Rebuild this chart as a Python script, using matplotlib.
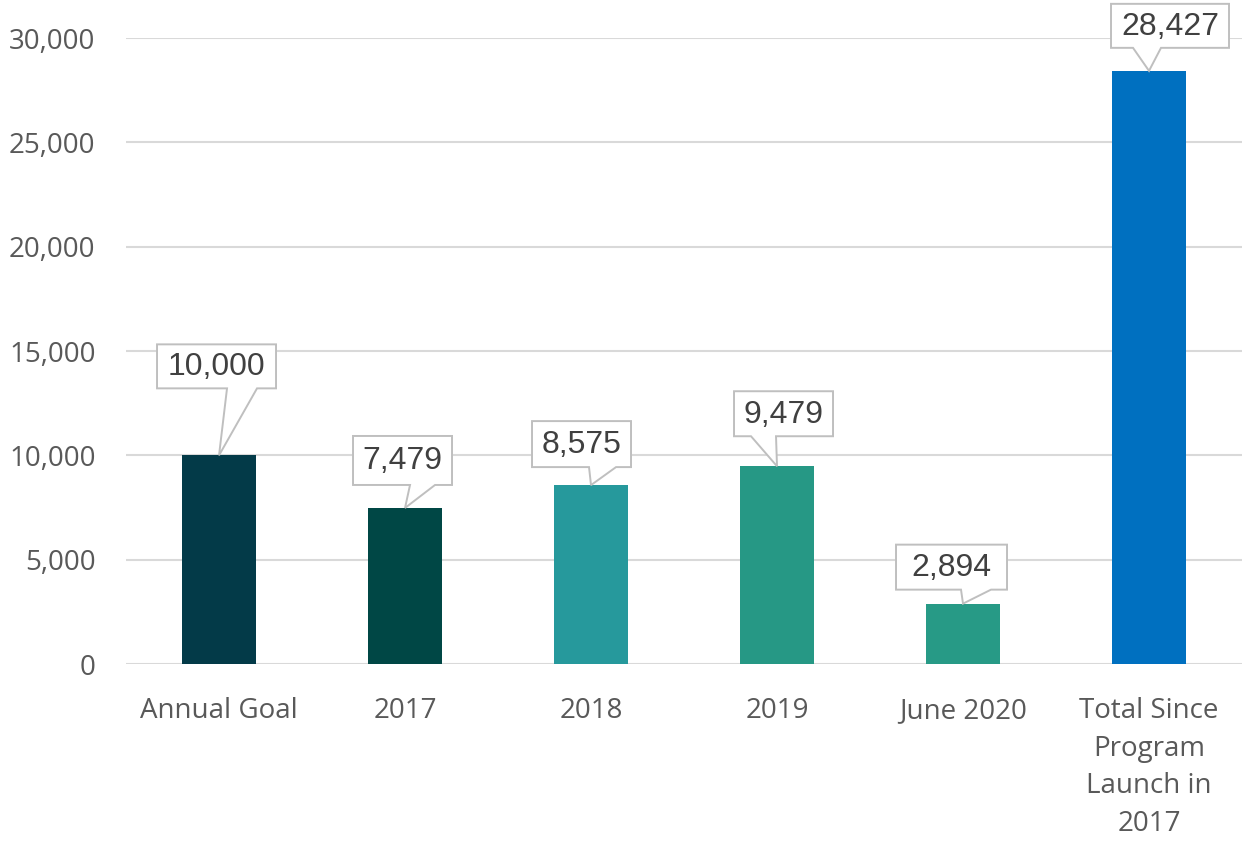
"""Program enrollment by year, with callout labels over each bar."""
import matplotlib
import numpy as np

matplotlib.use('Agg')
import matplotlib.pyplot as plt
import matplotlib.transforms as mtransforms
from matplotlib.patches import Polygon
from matplotlib.ticker import FuncFormatter, MultipleLocator

categories = ['Annual Goal', '2017', '2018', '2019', 'June 2020',
              'Total Since\nProgram\nLaunch in\n2017']
values = [10000, 7479, 8575, 9479, 2894, 28427]
bar_colors = ['#033a48', '#004745', '#26999c', '#269885', '#279a86', '#0070c0']

# callout shape per bar, pixel offsets from the bar top (image-down y):
# box left, box right, box top, box bottom, pointer base left, pointer base right
callouts = [
    (-62, 57, -111, -67, 8, 38),
    (-52, 47, -72, -23, 5, 30),
    (-59, 40, -64, -18, -2, 25),
    (-43, 56, -75, -30, -26, -1),
    (-67, 44, -59, -14, -2, 28),
    (-38, 80, -67, -23, -16, 12),
]

fig = plt.figure(figsize=(12.49, 8.43), dpi=100)
ax = fig.add_axes([0.1009, 0.2123, 0.8935, 0.7426])

x = np.arange(len(categories))
ax.bar(x, values, width=0.40, color=bar_colors, zorder=2)

ax.set_xlim(-0.5, len(categories) - 0.5)
ax.set_ylim(0, 30000)
ax.yaxis.set_major_locator(MultipleLocator(5000))
ax.yaxis.set_major_formatter(FuncFormatter(lambda v, _: f'{v:,.0f}'))
ax.yaxis.grid(True, color='#d9d9d9', linewidth=1.5, zorder=0)
ax.set_axisbelow(True)
for side in ('top', 'right', 'left', 'bottom'):
    ax.spines[side].set_visible(False)

ax.set_xticks(x)
ax.set_xticklabels(categories, fontfamily='Open Sans', fontsize=20,
                   color='#595959', linespacing=1.45)
ax.tick_params(axis='x', length=0, pad=24)
ax.tick_params(axis='y', length=0, pad=22, labelsize=20, labelcolor='#595959')
for lbl in ax.get_yticklabels():
    lbl.set_fontfamily('Open Sans')

for xi, v, (bl, br, bt, bb, pl, pr) in zip(x, values, callouts):
    trans = mtransforms.ScaledTranslation(xi, v, ax.transData)
    pts = [(bl, bt), (br, bt), (br, bb), (pr, bb), (0, 0), (pl, bb), (bl, bb)]
    pts = [(px, -py) for px, py in pts]
    ax.add_patch(Polygon(pts, closed=True, facecolor='white', edgecolor='#bfbfbf',
                         linewidth=1.4, transform=trans, clip_on=False, zorder=4))
    ax.annotate(f'{v:,}', xy=(xi, v), xytext=((bl + br) / 2, -(bt + bb) / 2 - 1),
                textcoords='offset pixels', ha='center', va='center',
                fontfamily='Liberation Sans', fontsize=23, color='#404040',
                zorder=5, annotation_clip=False)

fig.savefig('out.png', dpi=100)
plt.close(fig)
